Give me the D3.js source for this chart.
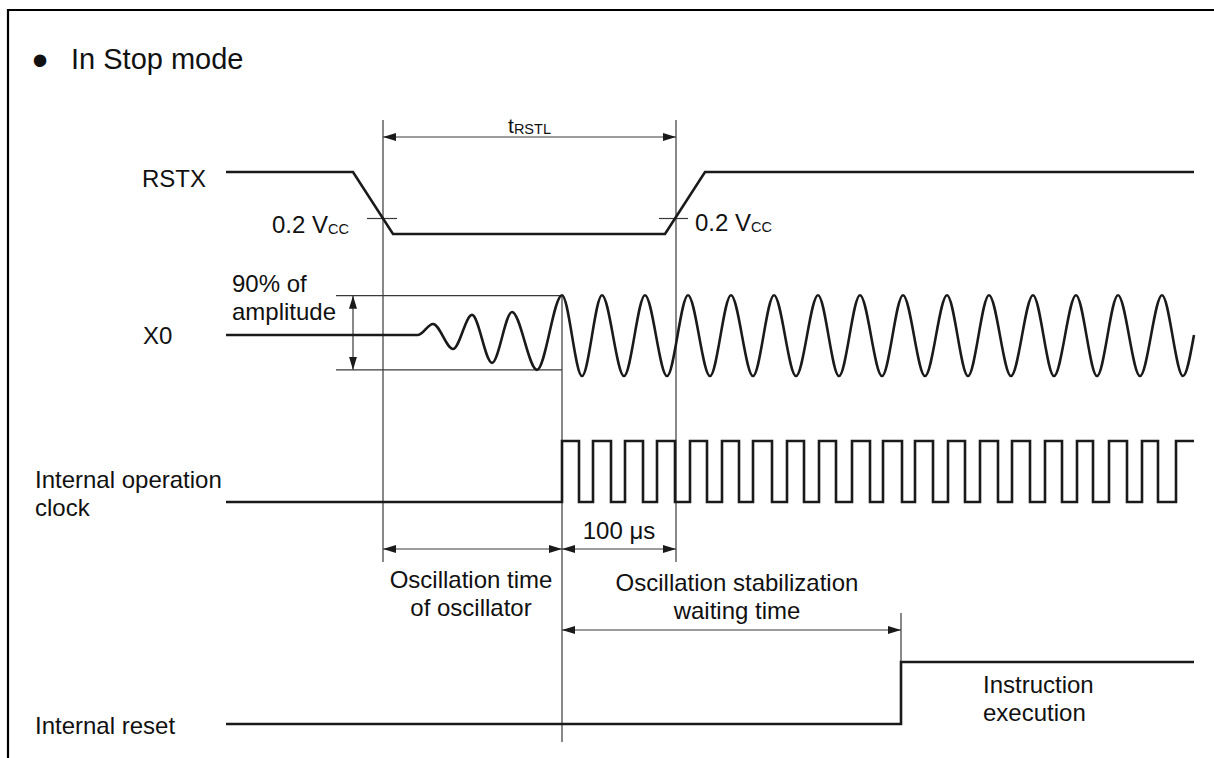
<!DOCTYPE html>
<html><head><meta charset="utf-8">
<script src="https://cdn.jsdelivr.net/npm/d3@7"></script>
<style>
body{margin:0;background:#fff}
text{font-family:"Liberation Sans",Arial,Helvetica,sans-serif;fill:#111}
</style>
</head><body>
<svg id="chart" width="1214" height="758"></svg>
<script>
// ---------------- data (time units along the diagram, signal levels) ----------------
const signalNames = ["RSTX", "X0", "Internal operation clock", "Internal reset"];
const rstxWave = [[0,1],[127,1],[167,0],[439,0],[479,1],[968,1]];
const rstxThreshold = 0.25;               // 0.2 Vcc crossing level
const x0Flat = [[0,0],[192,0]];
const x0Build = [[207,0.27],[227,-0.34],[246,0.49],[266,-0.68],[286,0.56],[311,-0.85]];
const x0PeakTimes = [336,376,419,462,505,548,592,634,677,721,763,807,850,892,936];
const x0TroughTimes = [356,398,441,484,527,570,613,656,699,742,785,828,871,914,957];
const x0PeakLevel = 0.97, x0TroughLevel = -1;
const x0End = [968, 0];
const ninetyTop = 0.96, ninetyBottom = -0.85;
const clockHighs = [[336,353],[367,385],[399,417],[431,449],[464,481],[496,513],[527,546],[561,578],
  [593,610],[626,644],[657,676],[689,707],[722,739],[754,772],[786,804],[819,836],[851,867],[883,901],
  [916,932],[950,968]];
const resetWave = [[0,0],[675,0],[675,1],[968,1]];
const tRstlStart = 157, tRstlEnd = 450;
const oscStable = 336, resetRise = 675;
const labels = {
  title: "In Stop mode", trstl: "t", trstlSub: "RSTL", vcc: "0.2 V", vccSub: "CC",
  ninety: ["90% of", "amplitude"], us: "100 \u03bcs",
  oscTime: ["Oscillation time", "of oscillator"], oscWait: ["Oscillation stabilization", "waiting time"],
  instr: ["Instruction", "execution"]
};

// ---------------- layout ----------------
const svg = d3.select("#chart");
const x = d3.scaleLinear().domain([0, 968]).range([226, 1194]);
const yR = d3.scaleLinear().domain([0,1]).range([234,172]);
const yX = d3.scaleLinear().domain([-1,1]).range([376,294]);
const yC = d3.scaleLinear().domain([0,1]).range([502,441]);
const yS = d3.scaleLinear().domain([0,1]).range([724,662]);

const SIG = {stroke:"#1a1a1a", width:2.6};
const THIN = {stroke:"#3a3a3a", width:1.2};

// frame
svg.append("path").attr("d","M8,758V10H1214").attr("fill","none").attr("stroke","#000").attr("stroke-width",2.2);

// arrow marker
const defs = svg.append("defs");
defs.append("marker").attr("id","arr").attr("viewBox","0 0 13 8").attr("refX",13).attr("refY",4)
  .attr("markerWidth",13).attr("markerHeight",8).attr("markerUnits","userSpaceOnUse")
  .attr("orient","auto-start-reverse")
  .append("path").attr("d","M0,0L13,4L0,8Z").attr("fill","#1a1a1a");

function thin(x1,y1,x2,y2){
  return svg.append("line").attr("x1",x1).attr("y1",y1).attr("x2",x2).attr("y2",y2)
    .attr("stroke",THIN.stroke).attr("stroke-width",THIN.width);
}
function dim(x1,y1,x2,y2){
  thin(x1,y1,x2,y2).attr("marker-start","url(#arr)").attr("marker-end","url(#arr)");
}
function sig(points, yScale, curve){
  const line = d3.line().x(d=>x(d[0])).y(d=>yScale(d[1])).curve(curve||d3.curveLinear);
  svg.append("path").attr("d", line(points)).attr("fill","none")
    .attr("stroke",SIG.stroke).attr("stroke-width",SIG.width).attr("stroke-linejoin","miter");
}
function txt(s, tx, ty, size, anchor){
  return svg.append("text").attr("x",tx).attr("y",ty).attr("font-size",size)
    .attr("text-anchor",anchor||"start").text(s);
}

// vertical reference lines
thin(x(tRstlStart),120,x(tRstlStart),562);
thin(x(tRstlEnd),120,x(tRstlEnd),562);
thin(x(oscStable),yX(x0PeakLevel),x(oscStable),742);
thin(x(resetRise),613,x(resetRise),yS(1));

// threshold ticks
thin(x(tRstlStart)-16,yR(rstxThreshold),x(tRstlStart)+14,yR(rstxThreshold));
thin(x(tRstlEnd)-17,yR(rstxThreshold),x(tRstlEnd)+12,yR(rstxThreshold));

// 90% lines
thin(336,yX(ninetyTop),x(oscStable),yX(ninetyTop));
thin(336,yX(ninetyBottom),x(oscStable),yX(ninetyBottom));
dim(353,yX(ninetyTop),353,yX(ninetyBottom));

// dimension arrows
dim(x(tRstlStart),137,x(tRstlEnd),137);
dim(x(tRstlStart),549,x(oscStable),549);
dim(x(oscStable),549,x(tRstlEnd),549);
dim(x(oscStable),630,x(resetRise),630);

// signals
sig(rstxWave, yR);
const x0Pts = [...x0Flat, ...x0Build,
  ...x0PeakTimes.map(t=>[t,x0PeakLevel]), ...x0TroughTimes.map(t=>[t,x0TroughLevel]), x0End]
  .sort((a,b)=>a[0]-b[0]);
sig(x0Pts, yX, d3.curveMonotoneX);
const clk = [[0,0]];
clockHighs.forEach(([r,f],i)=>{
  clk.push([r,0],[r,1],[f,1]);
  if (i < clockHighs.length-1) clk.push([f,0]);
});
sig(clk, yC);
sig(resetWave, yS);

// labels
txt("\u2022", 40, 76, 46, "middle");
txt(labels.title, 71, 69, 29);
txt(signalNames[0], 142, 187, 24);
txt(signalNames[1], 143, 344, 24);
txt("Internal operation", 35, 488, 24);
txt("clock", 35, 516, 24);
txt(signalNames[3], 35, 734, 24);

const tr = svg.append("text").attr("x",(x(tRstlStart)+x(tRstlEnd))/2).attr("y",133).attr("text-anchor","middle");
tr.append("tspan").attr("font-size",21).text(labels.trstl);
tr.append("tspan").attr("font-size",14.5).attr("dy",1).text(labels.trstlSub);

function vcc(tx, ty){
  const t = svg.append("text").attr("x",tx).attr("y",ty);
  t.append("tspan").attr("font-size",24).text(labels.vcc);
  t.append("tspan").attr("font-size",14.5).attr("dy",1).text(labels.vccSub);
}
vcc(272, 233);
vcc(695, 231);

txt(labels.ninety[0], 232, 292, 24);
txt(labels.ninety[1], 232, 320, 24);
txt(labels.us, (x(oscStable)+x(tRstlEnd))/2, 539, 24, "middle");
txt(labels.oscTime[0], 471, 588, 24, "middle");
txt(labels.oscTime[1], 471, 616, 24, "middle");
txt(labels.oscWait[0], 737, 591, 24, "middle");
txt(labels.oscWait[1], 737, 619, 24, "middle");
txt(labels.instr[0], 983, 693, 24);
txt(labels.instr[1], 983, 721, 24);
</script>
</body></html>
